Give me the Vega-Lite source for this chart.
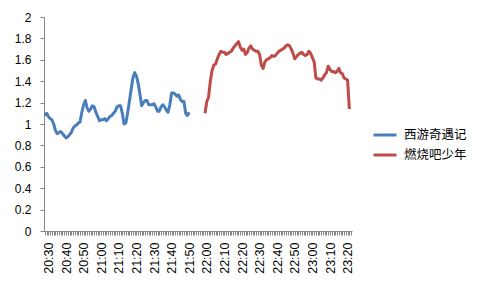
{
  "$schema": "https://vega.github.io/schema/vega-lite/v6.json",
  "width": 308,
  "height": 214,
  "autosize": "none",
  "padding": {"left": 44, "top": 17, "right": 131, "bottom": 60},
  "background": "white",
  "config": {
    "view": {"stroke": null},
    "axis": {"domainColor": "#868686", "tickColor": "#868686", "labelColor": "#000000", "grid": false, "tickSize": 4, "labelFont": "Liberation Sans", "labelFontSize": 12, "title": null}
  },
  "data": {
    "values": [
      {"t":"2000-01-01T20:28","v":1.08,"s":"西游奇遇记"},{"t":"2000-01-01T20:29","v":1.10,"s":"西游奇遇记"},{"t":"2000-01-01T20:30","v":1.07,"s":"西游奇遇记"},{"t":"2000-01-01T20:31","v":1.05,"s":"西游奇遇记"},{"t":"2000-01-01T20:32","v":1.04,"s":"西游奇遇记"},{"t":"2000-01-01T20:33","v":1.00,"s":"西游奇遇记"},{"t":"2000-01-01T20:34","v":0.94,"s":"西游奇遇记"},{"t":"2000-01-01T20:35","v":0.91,"s":"西游奇遇记"},{"t":"2000-01-01T20:36","v":0.92,"s":"西游奇遇记"},{"t":"2000-01-01T20:37","v":0.93,"s":"西游奇遇记"},
      {"t":"2000-01-01T20:38","v":0.91,"s":"西游奇遇记"},{"t":"2000-01-01T20:39","v":0.89,"s":"西游奇遇记"},{"t":"2000-01-01T20:40","v":0.87,"s":"西游奇遇记"},{"t":"2000-01-01T20:41","v":0.88,"s":"西游奇遇记"},{"t":"2000-01-01T20:42","v":0.90,"s":"西游奇遇记"},{"t":"2000-01-01T20:43","v":0.92,"s":"西游奇遇记"},{"t":"2000-01-01T20:44","v":0.96,"s":"西游奇遇记"},{"t":"2000-01-01T20:45","v":0.98,"s":"西游奇遇记"},{"t":"2000-01-01T20:46","v":0.99,"s":"西游奇遇记"},{"t":"2000-01-01T20:47","v":1.01,"s":"西游奇遇记"},
      {"t":"2000-01-01T20:48","v":1.02,"s":"西游奇遇记"},{"t":"2000-01-01T20:49","v":1.11,"s":"西游奇遇记"},{"t":"2000-01-01T20:50","v":1.18,"s":"西游奇遇记"},{"t":"2000-01-01T20:51","v":1.22,"s":"西游奇遇记"},{"t":"2000-01-01T20:52","v":1.15,"s":"西游奇遇记"},{"t":"2000-01-01T20:53","v":1.12,"s":"西游奇遇记"},{"t":"2000-01-01T20:54","v":1.14,"s":"西游奇遇记"},{"t":"2000-01-01T20:55","v":1.17,"s":"西游奇遇记"},{"t":"2000-01-01T20:56","v":1.16,"s":"西游奇遇记"},{"t":"2000-01-01T20:57","v":1.11,"s":"西游奇遇记"},
      {"t":"2000-01-01T20:58","v":1.07,"s":"西游奇遇记"},{"t":"2000-01-01T20:59","v":1.03,"s":"西游奇遇记"},{"t":"2000-01-01T21:00","v":1.04,"s":"西游奇遇记"},{"t":"2000-01-01T21:01","v":1.04,"s":"西游奇遇记"},{"t":"2000-01-01T21:02","v":1.05,"s":"西游奇遇记"},{"t":"2000-01-01T21:03","v":1.03,"s":"西游奇遇记"},{"t":"2000-01-01T21:04","v":1.05,"s":"西游奇遇记"},{"t":"2000-01-01T21:05","v":1.07,"s":"西游奇遇记"},{"t":"2000-01-01T21:06","v":1.08,"s":"西游奇遇记"},{"t":"2000-01-01T21:07","v":1.10,"s":"西游奇遇记"},
      {"t":"2000-01-01T21:08","v":1.12,"s":"西游奇遇记"},{"t":"2000-01-01T21:09","v":1.16,"s":"西游奇遇记"},{"t":"2000-01-01T21:10","v":1.17,"s":"西游奇遇记"},{"t":"2000-01-01T21:11","v":1.17,"s":"西游奇遇记"},{"t":"2000-01-01T21:12","v":1.10,"s":"西游奇遇记"},{"t":"2000-01-01T21:13","v":1.00,"s":"西游奇遇记"},{"t":"2000-01-01T21:14","v":1.01,"s":"西游奇遇记"},{"t":"2000-01-01T21:15","v":1.10,"s":"西游奇遇记"},{"t":"2000-01-01T21:16","v":1.21,"s":"西游奇遇记"},{"t":"2000-01-01T21:17","v":1.32,"s":"西游奇遇记"},
      {"t":"2000-01-01T21:18","v":1.43,"s":"西游奇遇记"},{"t":"2000-01-01T21:19","v":1.48,"s":"西游奇遇记"},{"t":"2000-01-01T21:20","v":1.45,"s":"西游奇遇记"},{"t":"2000-01-01T21:21","v":1.38,"s":"西游奇遇记"},{"t":"2000-01-01T21:22","v":1.28,"s":"西游奇遇记"},{"t":"2000-01-01T21:23","v":1.17,"s":"西游奇遇记"},{"t":"2000-01-01T21:24","v":1.20,"s":"西游奇遇记"},{"t":"2000-01-01T21:25","v":1.22,"s":"西游奇遇记"},{"t":"2000-01-01T21:26","v":1.22,"s":"西游奇遇记"},{"t":"2000-01-01T21:27","v":1.18,"s":"西游奇遇记"},
      {"t":"2000-01-01T21:28","v":1.18,"s":"西游奇遇记"},{"t":"2000-01-01T21:29","v":1.18,"s":"西游奇遇记"},{"t":"2000-01-01T21:30","v":1.19,"s":"西游奇遇记"},{"t":"2000-01-01T21:31","v":1.16,"s":"西游奇遇记"},{"t":"2000-01-01T21:32","v":1.12,"s":"西游奇遇记"},{"t":"2000-01-01T21:33","v":1.12,"s":"西游奇遇记"},{"t":"2000-01-01T21:34","v":1.16,"s":"西游奇遇记"},{"t":"2000-01-01T21:35","v":1.18,"s":"西游奇遇记"},{"t":"2000-01-01T21:36","v":1.16,"s":"西游奇遇记"},{"t":"2000-01-01T21:37","v":1.13,"s":"西游奇遇记"},
      {"t":"2000-01-01T21:38","v":1.11,"s":"西游奇遇记"},{"t":"2000-01-01T21:39","v":1.18,"s":"西游奇遇记"},{"t":"2000-01-01T21:40","v":1.29,"s":"西游奇遇记"},{"t":"2000-01-01T21:41","v":1.29,"s":"西游奇遇记"},{"t":"2000-01-01T21:42","v":1.28,"s":"西游奇遇记"},{"t":"2000-01-01T21:43","v":1.26,"s":"西游奇遇记"},{"t":"2000-01-01T21:44","v":1.27,"s":"西游奇遇记"},{"t":"2000-01-01T21:45","v":1.23,"s":"西游奇遇记"},{"t":"2000-01-01T21:46","v":1.21,"s":"西游奇遇记"},{"t":"2000-01-01T21:47","v":1.21,"s":"西游奇遇记"},
      {"t":"2000-01-01T21:48","v":1.10,"s":"西游奇遇记"},{"t":"2000-01-01T21:49","v":1.08,"s":"西游奇遇记"},{"t":"2000-01-01T21:50","v":1.11,"s":"西游奇遇记"},
      {"t":"2000-01-01T21:59","v":1.10,"s":"燃烧吧少年"},{"t":"2000-01-01T22:00","v":1.21,"s":"燃烧吧少年"},{"t":"2000-01-01T22:01","v":1.25,"s":"燃烧吧少年"},{"t":"2000-01-01T22:02","v":1.40,"s":"燃烧吧少年"},{"t":"2000-01-01T22:03","v":1.50,"s":"燃烧吧少年"},{"t":"2000-01-01T22:04","v":1.55,"s":"燃烧吧少年"},{"t":"2000-01-01T22:05","v":1.56,"s":"燃烧吧少年"},{"t":"2000-01-01T22:06","v":1.61,"s":"燃烧吧少年"},{"t":"2000-01-01T22:07","v":1.65,"s":"燃烧吧少年"},{"t":"2000-01-01T22:08","v":1.68,"s":"燃烧吧少年"},
      {"t":"2000-01-01T22:09","v":1.67,"s":"燃烧吧少年"},{"t":"2000-01-01T22:10","v":1.67,"s":"燃烧吧少年"},{"t":"2000-01-01T22:11","v":1.65,"s":"燃烧吧少年"},{"t":"2000-01-01T22:12","v":1.66,"s":"燃烧吧少年"},{"t":"2000-01-01T22:13","v":1.67,"s":"燃烧吧少年"},{"t":"2000-01-01T22:14","v":1.68,"s":"燃烧吧少年"},{"t":"2000-01-01T22:15","v":1.71,"s":"燃烧吧少年"},{"t":"2000-01-01T22:16","v":1.73,"s":"燃烧吧少年"},{"t":"2000-01-01T22:17","v":1.75,"s":"燃烧吧少年"},{"t":"2000-01-01T22:18","v":1.77,"s":"燃烧吧少年"},
      {"t":"2000-01-01T22:19","v":1.72,"s":"燃烧吧少年"},{"t":"2000-01-01T22:20","v":1.69,"s":"燃烧吧少年"},{"t":"2000-01-01T22:21","v":1.70,"s":"燃烧吧少年"},{"t":"2000-01-01T22:22","v":1.65,"s":"燃烧吧少年"},{"t":"2000-01-01T22:23","v":1.67,"s":"燃烧吧少年"},{"t":"2000-01-01T22:24","v":1.71,"s":"燃烧吧少年"},{"t":"2000-01-01T22:25","v":1.73,"s":"燃烧吧少年"},{"t":"2000-01-01T22:26","v":1.70,"s":"燃烧吧少年"},{"t":"2000-01-01T22:27","v":1.69,"s":"燃烧吧少年"},{"t":"2000-01-01T22:28","v":1.68,"s":"燃烧吧少年"},
      {"t":"2000-01-01T22:29","v":1.68,"s":"燃烧吧少年"},{"t":"2000-01-01T22:30","v":1.65,"s":"燃烧吧少年"},{"t":"2000-01-01T22:31","v":1.55,"s":"燃烧吧少年"},{"t":"2000-01-01T22:32","v":1.52,"s":"燃烧吧少年"},{"t":"2000-01-01T22:33","v":1.58,"s":"燃烧吧少年"},{"t":"2000-01-01T22:34","v":1.60,"s":"燃烧吧少年"},{"t":"2000-01-01T22:35","v":1.61,"s":"燃烧吧少年"},{"t":"2000-01-01T22:36","v":1.62,"s":"燃烧吧少年"},{"t":"2000-01-01T22:37","v":1.64,"s":"燃烧吧少年"},{"t":"2000-01-01T22:38","v":1.63,"s":"燃烧吧少年"},
      {"t":"2000-01-01T22:39","v":1.64,"s":"燃烧吧少年"},{"t":"2000-01-01T22:40","v":1.66,"s":"燃烧吧少年"},{"t":"2000-01-01T22:41","v":1.68,"s":"燃烧吧少年"},{"t":"2000-01-01T22:42","v":1.69,"s":"燃烧吧少年"},{"t":"2000-01-01T22:43","v":1.70,"s":"燃烧吧少年"},{"t":"2000-01-01T22:44","v":1.71,"s":"燃烧吧少年"},{"t":"2000-01-01T22:45","v":1.73,"s":"燃烧吧少年"},{"t":"2000-01-01T22:46","v":1.74,"s":"燃烧吧少年"},{"t":"2000-01-01T22:47","v":1.73,"s":"燃烧吧少年"},{"t":"2000-01-01T22:48","v":1.70,"s":"燃烧吧少年"},
      {"t":"2000-01-01T22:49","v":1.66,"s":"燃烧吧少年"},{"t":"2000-01-01T22:50","v":1.61,"s":"燃烧吧少年"},{"t":"2000-01-01T22:51","v":1.63,"s":"燃烧吧少年"},{"t":"2000-01-01T22:52","v":1.65,"s":"燃烧吧少年"},{"t":"2000-01-01T22:53","v":1.66,"s":"燃烧吧少年"},{"t":"2000-01-01T22:54","v":1.67,"s":"燃烧吧少年"},{"t":"2000-01-01T22:55","v":1.65,"s":"燃烧吧少年"},{"t":"2000-01-01T22:56","v":1.64,"s":"燃烧吧少年"},{"t":"2000-01-01T22:57","v":1.65,"s":"燃烧吧少年"},{"t":"2000-01-01T22:58","v":1.68,"s":"燃烧吧少年"},
      {"t":"2000-01-01T22:59","v":1.66,"s":"燃烧吧少年"},{"t":"2000-01-01T23:00","v":1.62,"s":"燃烧吧少年"},{"t":"2000-01-01T23:01","v":1.58,"s":"燃烧吧少年"},{"t":"2000-01-01T23:02","v":1.43,"s":"燃烧吧少年"},{"t":"2000-01-01T23:03","v":1.42,"s":"燃烧吧少年"},{"t":"2000-01-01T23:04","v":1.42,"s":"燃烧吧少年"},{"t":"2000-01-01T23:05","v":1.41,"s":"燃烧吧少年"},{"t":"2000-01-01T23:06","v":1.43,"s":"燃烧吧少年"},{"t":"2000-01-01T23:07","v":1.46,"s":"燃烧吧少年"},{"t":"2000-01-01T23:08","v":1.48,"s":"燃烧吧少年"},
      {"t":"2000-01-01T23:09","v":1.54,"s":"燃烧吧少年"},{"t":"2000-01-01T23:10","v":1.51,"s":"燃烧吧少年"},{"t":"2000-01-01T23:11","v":1.49,"s":"燃烧吧少年"},{"t":"2000-01-01T23:12","v":1.49,"s":"燃烧吧少年"},{"t":"2000-01-01T23:13","v":1.48,"s":"燃烧吧少年"},{"t":"2000-01-01T23:14","v":1.49,"s":"燃烧吧少年"},{"t":"2000-01-01T23:15","v":1.52,"s":"燃烧吧少年"},{"t":"2000-01-01T23:16","v":1.48,"s":"燃烧吧少年"},{"t":"2000-01-01T23:17","v":1.47,"s":"燃烧吧少年"},{"t":"2000-01-01T23:18","v":1.43,"s":"燃烧吧少年"},
      {"t":"2000-01-01T23:19","v":1.42,"s":"燃烧吧少年"},{"t":"2000-01-01T23:20","v":1.41,"s":"燃烧吧少年"},{"t":"2000-01-01T23:21","v":1.14,"s":"燃烧吧少年"}
    ]
  },
  "mark": {"type": "line", "strokeWidth": 3, "strokeJoin": "round"},
  "encoding": {
    "x": {
      "field": "t",
      "type": "temporal",
      "scale": {"domain": [
        {"year": 2000, "month": 1, "date": 1, "hours": 20, "minutes": 27, "seconds": 30},
        {"year": 2000, "month": 1, "date": 1, "hours": 23, "minutes": 22, "seconds": 30}
      ]},
      "axis": {
        "format": "%H:%M",
        "tickCount": 175,
        "labelExpr": "slice(datum.label, 4) == '0' ? datum.label : ''",
        "labelOverlap": false,
        "labelAngle": 270,
        "labelPadding": 7,
        "labelFontSize": 12.5,
        "tickSize": 4
      }
    },
    "y": {
      "field": "v",
      "type": "quantitative",
      "scale": {"domain": [0, 2], "nice": false},
      "axis": {
        "values": [0, 0.2, 0.4, 0.6, 0.8, 1, 1.2, 1.4, 1.6, 1.8, 2],
        "format": "~g",
        "tickSize": 4,
        "labelPadding": 9,
        "labelFontSize": 12
      }
    },
    "color": {
      "field": "s",
      "type": "nominal",
      "scale": {"domain": ["西游奇遇记", "燃烧吧少年"], "range": ["#4A7EBB", "#BE4B48"]},
      "legend": {
        "title": null,
        "orient": "none",
        "legendX": 328,
        "legendY": 105,
        "symbolType": "stroke",
        "symbolSize": 529,
        "symbolStrokeWidth": 3,
        "labelOffset": 6,
        "rowPadding": 0,
        "labelFont": "Noto Sans CJK SC",
        "labelFontSize": 12.5,
        "labelColor": "#000000"
      }
    }
  }
}
